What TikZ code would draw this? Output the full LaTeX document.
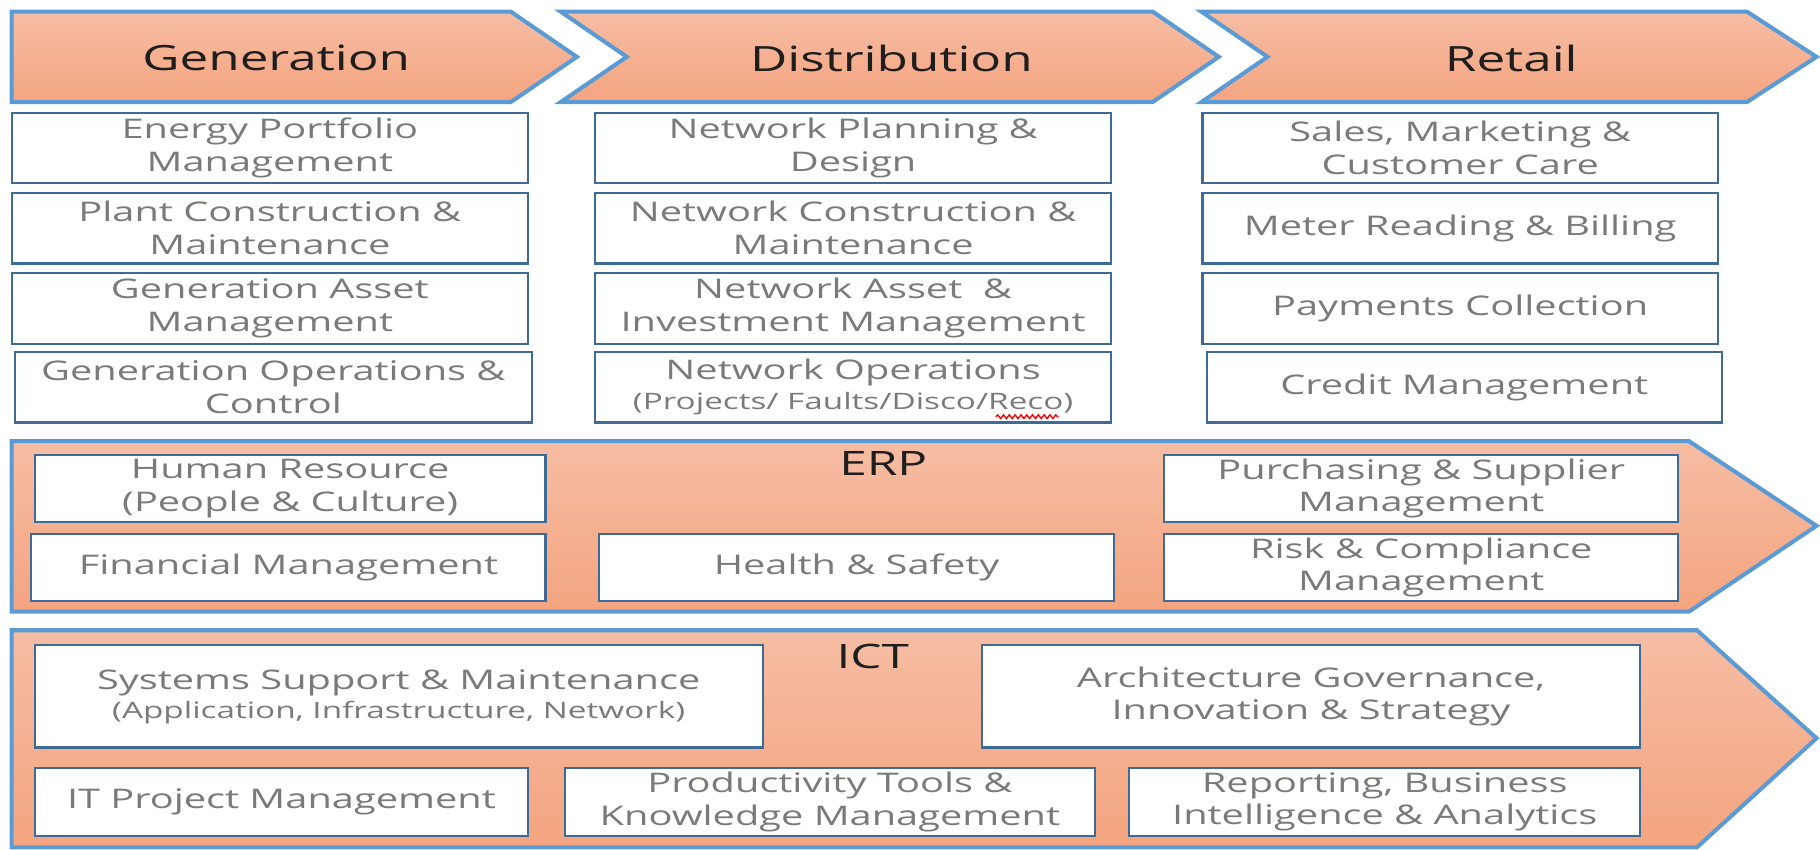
\documentclass[tikz,border=0pt]{standalone}
\usepackage{fontspec}
\setmainfont[FakeStretch=1.47]{Open Sans}
\usetikzlibrary{decorations.pathmorphing}
\definecolor{salTop}{HTML}{F6BDA4}
\definecolor{salBot}{HTML}{F4A47F}
\definecolor{edgeblue}{HTML}{5B9BD5}
\definecolor{boxedge}{HTML}{3E6A96}
\definecolor{txtgray}{HTML}{7A7A7A}
\definecolor{hdrtxt}{HTML}{1E1E1E}
\newcommand\smalltxt{\fontsize{19.5}{22}\selectfont}
\tikzset{
  band/.style={draw=edgeblue, line width=3.5pt, top color=salTop, bottom color=salBot, line join=miter},
  hdr/.style={text=hdrtxt, font=\fontsize{30}{34}\selectfont, inner sep=0pt},
  ttl/.style={text=hdrtxt, font=\fontsize{29}{32}\selectfont, inner sep=0pt},
  cell/.style={draw=boxedge, line width=1.8pt, fill=white, text=txtgray, align=center,
    font=\fontsize{23.3}{28}\selectfont, inner sep=0pt},
}
\begin{document}
\begin{tikzpicture}[x=1pt,y=-1pt]
\useasboundingbox (0,0) rectangle (1568,732.3);
% top chevrons
\draw[band] (10,10) -- (440,10) -- (497,49) -- (440,88) -- (10,88) -- cycle;
\draw[band] (483,10) -- (993,10) -- (1050,49) -- (993,88) -- (483,88) -- (540,49) -- cycle;
\draw[band] (1035,10) -- (1505,10) -- (1565,49) -- (1505,88) -- (1035,88) -- (1092,49) -- cycle;
\node[hdr] (gen) at (238,50) {Generation};
\node[hdr] (dist) at (768,50) {Distribution};
\node[hdr] (ret) at (1302,50) {Retail};
% generation column
\node[cell, minimum width=445pt, minimum height=61pt] (g1) at (232.5,127.5) {Energy Portfolio\\Management};
\node[cell, minimum width=445pt, minimum height=61pt] (g2) at (232.5,196.5) {Plant Construction \&\\Maintenance};
\node[cell, minimum width=445pt, minimum height=61pt] (g3) at (232.5,265.5) {Generation Asset\\Management};
\node[cell, minimum width=445pt, minimum height=61pt] (g4) at (235.5,333.5) {Generation Operations \&\\Control};
% distribution column
\node[cell, minimum width=444pt, minimum height=61pt] (d1) at (735,127.5) {Network Planning \&\\Design};
\node[cell, minimum width=444pt, minimum height=61pt] (d2) at (735,196.5) {Network Construction \&\\Maintenance};
\node[cell, minimum width=444pt, minimum height=61pt] (d3) at (735,265.5) {Network Asset\ \ \&\\Investment Management};
\node[cell, minimum width=444pt, minimum height=61pt] (d4) at (735,333.5) {Network Operations\\[-2pt]{\smalltxt(Projects/ Faults/Disco/Reco)}};
% retail column
\node[cell, minimum width=444pt, minimum height=61pt] (r1) at (1258,127.5) {Sales, Marketing \&\\Customer Care};
\node[cell, minimum width=444pt, minimum height=61pt] (r2) at (1258,196.5) {Meter Reading \& Billing};
\node[cell, minimum width=444pt, minimum height=61pt] (r3) at (1258,265.5) {Payments Collection};
\node[cell, minimum width=444pt, minimum height=61pt] (r4) at (1261.5,333.5) {Credit Management};
% ERP band
\draw[band] (10,380) -- (1455,380) -- (1565,453) -- (1455,527) -- (10,527) -- cycle;
\node[ttl] (erp) at (761,399) {ERP};
\node[cell, minimum width=440pt, minimum height=58pt] (hr) at (250,421) {Human Resource\\(People \& Culture)};
\node[cell, minimum width=443pt, minimum height=58pt] (fin) at (248.5,489) {Financial Management};
\node[cell, minimum width=444pt, minimum height=58pt] (hs) at (738,489) {Health \& Safety};
\node[cell, minimum width=443pt, minimum height=58pt] (pur) at (1224.5,421) {Purchasing \& Supplier\\Management};
\node[cell, minimum width=443pt, minimum height=58pt] (risk) at (1224.5,489) {Risk \& Compliance\\Management};
% ICT band
\draw[band] (10,543) -- (1462,543) -- (1565,636) -- (1462,730) -- (10,730) -- cycle;
\node[ttl] (ict) at (752,566) {ICT};
\node[cell, minimum width=627pt, minimum height=88pt] (sys) at (343.5,600) {Systems Support \& Maintenance\\[-3pt]{\smalltxt(Application, Infrastructure, Network)}};
\node[cell, minimum width=567pt, minimum height=88pt] (arch) at (1129.5,600) {Architecture Governance,\\Innovation \& Strategy};
\node[cell, minimum width=425pt, minimum height=58pt] (itpm) at (242.5,691) {IT Project Management};
\node[cell, minimum width=456pt, minimum height=58pt] (prod) at (715,691) {Productivity Tools \&\\Knowledge Management};
\node[cell, minimum width=440pt, minimum height=58pt] (rep) at (1193,691) {Reporting, Business\\Intelligence \& Analytics};
% spell-check squiggle under "Reco"
\coordinate (sqa) at (858,359);
\coordinate (sqb) at (912,359);
\draw[red, line width=1.2pt, decorate, decoration={snake, amplitude=1.6pt, segment length=5pt}] (sqa) -- (sqb);
\end{tikzpicture}
\end{document}
